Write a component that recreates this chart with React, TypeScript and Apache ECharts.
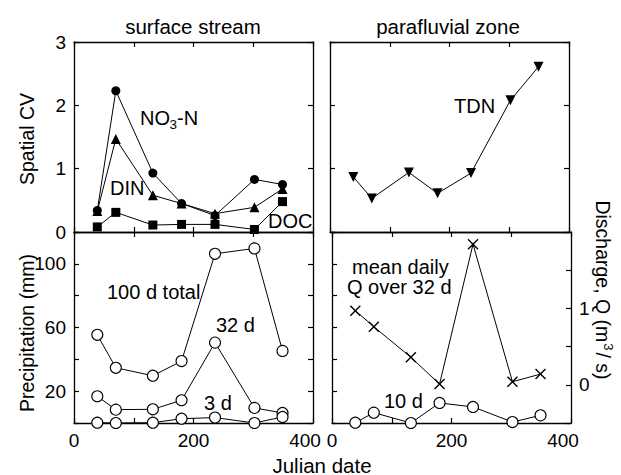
import React, { useEffect, useRef } from "react";
import * as echarts from "echarts";

const FONT = "'Liberation Sans', Arial, Helvetica, sans-serif";

// Sampling dates (Julian date)
const dates = [39, 70, 132, 180, 236, 302, 349];
// Surface stream spatial CV
const no3n = [0.34, 2.23, 0.93, 0.45, 0.26, 0.83, 0.75];
const din = [0.33, 1.47, 0.58, 0.45, 0.29, 0.39, 0.68];
const doc = [0.08, 0.31, 0.11, 0.12, 0.12, 0.04, 0.48];
// Parafluvial zone spatial CV
const tdn = [0.87, 0.53, 0.94, 0.61, 0.93, 2.08, 2.61];
// Precipitation (mm)
const precip100 = [55.4, 34.7, 29.7, 38.9, 106.3, 109.7, 45.3];
const precip32 = [16.8, 8.4, 8.6, 14.3, 50.5, 9.5, 6.3];
const precip3 = [0.2, 0, 0.2, 2.7, 3.4, 0, 3.8];
const precip10 = [0.2, 6.5, 0, 12.6, 10.1, 0.6, 4.8];
// Mean daily discharge over 32 d (m3/s)
const q32 = [0.97, 0.76, 0.36, 0.01, 1.84, 0.04, 0.14];

// tick labels
const xLabelVals = [0, 200, 400];
const cvLabelVals = [0, 1, 2, 3];
const precipLabelVals = [20, 60, 100];
const qLabelVals = [0, 1];

const pairs = (arr: number[]) => dates.map((d, i) => [d, arr[i]]);

const AX_LINE = { show: true, onZero: false, lineStyle: { color: "#000", width: 1.3 } };
const AX_TICK = { show: true, inside: true, length: 5, lineStyle: { color: "#000", width: 1.2 } };

function xAx(gridIndex: number, position: string, showLabels: boolean) {
  return {
    type: "value",
    gridIndex,
    position,
    min: 0,
    max: 400,
    interval: 100,
    axisLine: AX_LINE,
    axisTick: AX_TICK,
    axisLabel: {
      show: showLabels,
      margin: 8,
      color: "#000",
      fontSize: 19,
      fontFamily: FONT,
      formatter: (v: number) =>
        v === 400 ? "{r|400}" : xLabelVals.includes(v) ? String(v) : "",
      rich: {
        r: { fontSize: 19, fontFamily: FONT, color: "#000", padding: [0, 16, 0, 0] },
      },
    },
    splitLine: { show: false },
  };
}

function yAx(
  gridIndex: number,
  position: string,
  min: number,
  max: number,
  interval: number,
  labels: number[] | null
) {
  return {
    type: "value",
    gridIndex,
    position,
    min,
    max,
    interval,
    axisLine: AX_LINE,
    axisTick: AX_TICK,
    axisLabel: {
      show: !!labels,
      margin: 8,
      color: "#000",
      fontSize: 19,
      fontFamily: FONT,
      showMinLabel: true,
      showMaxLabel: true,
      formatter: (v: number) =>
        labels && labels.some((l) => Math.abs(l - v) < 1e-6) ? String(v) : "",
    },
    splitLine: { show: false },
  };
}

const XMARK =
  "path://M0,0.9L0.9,0L5,4.1L9.1,0L10,0.9L5.9,5L10,9.1L9.1,10L5,5.9L0.9,10L0,9.1L4.1,5Z";

function line(
  name: string,
  xi: number,
  yi: number,
  arr: number[],
  symbol: string,
  size: number,
  open = false,
  rotate = 0
) {
  return {
    name,
    type: "line",
    xAxisIndex: xi,
    yAxisIndex: yi,
    data: pairs(arr),
    symbol,
    symbolSize: size,
    symbolRotate: rotate,
    showSymbol: true,
    lineStyle: { color: "#000", width: 1 },
    itemStyle: open
      ? { color: "#fff", borderColor: "#000", borderWidth: 1.1 }
      : { color: "#000", borderWidth: 0 },
    emphasis: { disabled: true },
  };
}

const txt = (text: string, x: number, y: number, size = 20, align = "left") => ({
  type: "text",
  x,
  y,
  style: {
    text,
    fill: "#000",
    font: `${size}px ${FONT}`,
    textAlign: align,
    textVerticalAlign: "middle",
  },
});

export default function App() {
  const ref = useRef<HTMLDivElement>(null);
  useEffect(() => {
    document.body.style.margin = "0";
    const chart = echarts.init(ref.current!, null, { renderer: "svg" });
    chart.setOption({
      animation: false,
      backgroundColor: "#fff",
      grid: [
        { left: 74, top: 42, width: 239, height: 190 },
        { left: 330, top: 42, width: 239, height: 190 },
        { left: 74, top: 232, width: 239, height: 191 },
        { left: 332, top: 232, width: 239, height: 191 },
      ],
      xAxis: [
        xAx(0, "bottom", false),
        xAx(0, "top", false),
        xAx(1, "bottom", false),
        xAx(1, "top", false),
        xAx(2, "bottom", true),
        xAx(2, "top", false),
        xAx(3, "bottom", true),
        xAx(3, "top", false),
      ],
      yAxis: [
        yAx(0, "left", 0, 3, 1, cvLabelVals),
        yAx(0, "right", 0, 3, 1, null),
        yAx(1, "left", 0, 3, 1, null),
        yAx(1, "right", 0, 3, 1, null),
        yAx(2, "left", 0, 120, 20, precipLabelVals),
        yAx(2, "right", 0, 120, 20, null),
        yAx(3, "left", 0, 120, 20, null),
        yAx(3, "right", -0.5, 2, 0.5, qLabelVals),
      ],
      series: [
        line("DOC", 0, 0, doc, "rect", 9),
        line("DIN", 0, 0, din, "triangle", 10),
        line("NO3-N", 0, 0, no3n, "circle", 9),
        line("TDN", 2, 2, tdn, "triangle", 10, false, 180),
        line("100 d total", 4, 4, precip100, "circle", 11, true),
        line("32 d", 4, 4, precip32, "circle", 11, true),
        line("3 d", 4, 4, precip3, "circle", 11, true),
        line("Q over 32 d", 6, 7, q32, XMARK, 11),
        line("10 d", 6, 6, precip10, "circle", 11, true),
      ],
      graphic: [
        txt("surface stream", 193, 26, 20.5, "center"),
        txt("parafluvial zone", 448, 26, 20.5, "center"),
        txt("Julian date", 322, 465, 20.5, "center"),
        {
          type: "text",
          x: 27,
          y: 139,
          rotation: Math.PI / 2,
          style: {
            text: "Spatial CV",
            fill: "#000",
            font: `19.5px ${FONT}`,
            textAlign: "center",
            textVerticalAlign: "middle",
          },
        },
        {
          type: "text",
          x: 27,
          y: 333,
          rotation: Math.PI / 2,
          style: {
            text: "Precipitation (mm)",
            fill: "#000",
            font: `19.5px ${FONT}`,
            textAlign: "center",
            textVerticalAlign: "middle",
          },
        },
        {
          type: "text",
          x: 603,
          y: 290,
          rotation: -Math.PI / 2,
          style: {
            text: "{n|Discharge, Q (m}{s|3}{n|/ s)}",
            fill: "#000",
            textAlign: "center",
            textVerticalAlign: "middle",
            rich: {
              n: { fontSize: 19.5, fontFamily: FONT, lineHeight: 24, fill: "#000" },
              s: {
                fontSize: 13,
                fontFamily: FONT,
                lineHeight: 13,
                verticalAlign: "top",
                fill: "#000",
                padding: [0, 2, 0, 1],
              },
            },
          },
        },
        txt("NO", 140, 118),
        txt("3", 169.5, 124, 13.5),
        txt("-N", 177, 118),
        txt("DIN", 110, 188),
        txt("DOC", 268, 221),
        txt("TDN", 454, 106),
        txt("100 d total", 107, 292),
        txt("32 d", 216, 325),
        txt("3 d", 204, 403),
        txt("mean daily", 352, 267),
        txt("Q over 32 d", 347, 287),
        txt("10 d", 384, 401),
      ],
    });
    return () => chart.dispose();
  }, []);
  return <div ref={ref} style={{ width: 621, height: 475 }} />;
}
